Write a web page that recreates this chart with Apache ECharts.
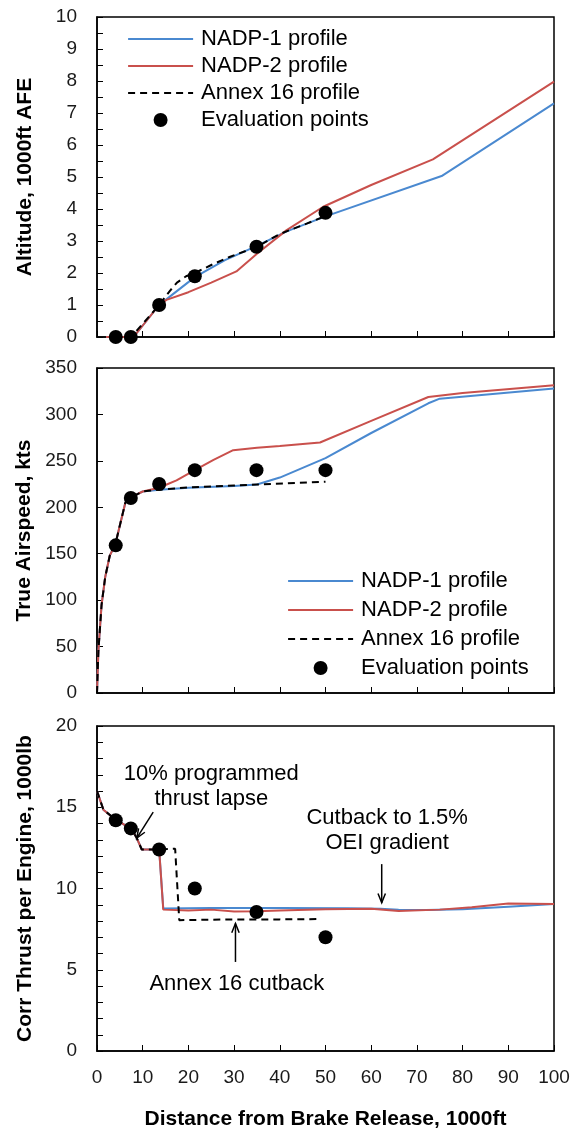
<!DOCTYPE html>
<html>
<head>
<meta charset="utf-8">
<script src="https://cdn.jsdelivr.net/npm/echarts@6/dist/echarts.min.js"></script>
<style>html,body{margin:0;padding:0;background:#fff;}#c{width:579px;height:1133px;}</style>
</head>
<body>
<div id="c"></div>
<script>
// ---------- DATA (x in 1000 ft from brake release) ----------
const evalX      = [4.1, 7.4, 13.6, 21.4, 34.9, 50];
const evalAlt    = [0, 0, 1.0, 1.9, 2.82, 3.88];
const evalSpeed  = [159, 210, 225, 240, 240, 240];
const evalThrust = [14.2, 13.7, 12.4, 10.0, 8.55, 7.0];

const altNADP1  = [[2,0],[8,0],[13.6,1.0],[16,1.27],[21.4,1.87],[28,2.4],[35,2.85],[41.5,3.3],[50,3.77],[75.4,5.03],[100,7.3]];
const altNADP2  = [[2,0],[8,0],[13.6,1.0],[15.2,1.16],[20,1.4],[25,1.7],[30.5,2.05],[35,2.6],[41.5,3.34],[49.5,4.07],[60,4.75],[73.5,5.55],[100,7.98]];
const altAnnex  = [[4,0],[7.5,0],[13.6,1.0],[16,1.45],[17.5,1.7],[19.5,1.9],[21.4,2.0],[25,2.25],[29,2.5],[35,2.82],[40,3.22],[46,3.55],[50,3.78]];

const spdNADP1  = [[0,0],[0.3,45],[1,95],[1.8,125],[2.8,148],[4,160],[6.2,205],[7.5,211],[10,217],[13.6,219],[20,221],[30,223],[35,224.5],[40,232],[50,253],[60,280],[72.5,312],[75,317],[100,328]];
const spdNADP2  = [[0,0],[0.3,45],[1,95],[1.8,125],[2.8,148],[4,160],[6.2,205],[7.5,211],[10,217],[13.6,221],[15,224],[17.4,229],[21.4,240],[25.5,251],[29.8,261.5],[35,264],[40,266],[48.8,269.8],[60,293],[72.5,318.8],[80,323],[100,331.4]];
const spdAnnex  = [[0,0],[0.3,45],[1,95],[1.8,125],[2.8,148],[4,160],[6.2,205],[7.5,211],[10,217],[13.6,219],[20,221.5],[30,223.5],[35,224.5],[50,227.5]];

const thrNADP1  = [[0,16.0],[1.4,14.85],[4,14.25],[7.6,13.65],[8.7,13.1],[9.8,12.4],[13.6,12.4],[14.5,8.77],[25,8.8],[40,8.8],[55,8.78],[62,8.75],[66,8.7],[72,8.68],[80,8.72],[90,8.88],[100,9.04]];
const thrNADP2  = [[0,16.0],[1.4,14.85],[4,14.25],[7.6,13.65],[8.7,13.1],[9.8,12.4],[13.6,12.4],[14.5,8.7],[20,8.65],[25,8.7],[30,8.58],[35,8.6],[40,8.65],[50,8.72],[60,8.75],[66,8.62],[75,8.7],[82,8.85],[90,9.08],[100,9.05]];
const thrAnnex  = [[0,16.0],[1.4,14.85],[4,14.25],[7.6,13.65],[8.7,13.1],[9.8,12.4],[13.6,12.4],[17.1,12.45],[18,8.05],[30,8.1],[40,8.1],[48.5,8.12]];

const seriesNames = ['NADP-1 profile','NADP-2 profile','Annex 16 profile','Evaluation points'];
const yNames = ['Altitude, 1000ft AFE','True Airspeed, kts','Corr Thrust per Engine, 1000lb'];
const xName = 'Distance from Brake Release, 1000ft';

const annotationTexts = [
  {text:'10% programmed\nthrust lapse', x:25.0, y:16.27},
  {text:'Cutback to 1.5%\nOEI gradient', x:63.5, y:13.55},
  {text:'Annex 16 cutback', x:30.6, y:4.15}
];
const annotationArrows = [
  {from:[12.3,14.7], to:[8.7,13.1]},
  {from:[62.3,11.5], to:[62.3,9.12]},
  {from:[30.3,5.48], to:[30.3,7.85]}
];

// ---------- STYLE ----------
const FONT = "'Liberation Sans', Arial, Helvetica, sans-serif";
const BLUE = '#4a89d0', RED = '#c9504c';
const lineColors = [BLUE, RED, '#000'];

const grids = [
  {left:97, right:25, top:17,  height:320},
  {left:97, right:25, top:368, height:325},
  {left:97, right:25, top:726, height:325}
].map(g => Object.assign(g, {show:true, borderColor:'#000', borderWidth:1.5, containLabel:false}));

function xAxis(i){
  return {
    gridIndex:i, type:'value', min:0, max:100, interval:10,
    name: i===2 ? xName : '', nameLocation:'middle', nameGap:58,
    nameTextStyle:{fontSize:21, fontWeight:'bold', color:'#000', fontFamily:FONT},
    axisLine:{show:true, lineStyle:{color:'#000', width:1.5}},
    axisTick:{show:true, inside:true, length:6, lineStyle:{color:'#000', width:1}},
    axisLabel:{show:i===2, fontSize:19, color:'#1a1a1a', margin:17, fontFamily:FONT},
    splitLine:{show:false}
  };
}
function yAxis(i, max, interval, minorSplit){
  return {
    gridIndex:i, type:'value', min:0, max:max, interval:interval,
    name:yNames[i], nameLocation:'middle', nameGap:61, nameRotate:90,
    nameTextStyle:{fontSize:21, fontWeight:'bold', color:'#000', fontFamily:FONT},
    axisLine:{show:true, lineStyle:{color:'#000', width:1.5}},
    axisTick:{show:true, inside:true, length:6, lineStyle:{color:'#000', width:1}},
    minorTick:{show:minorSplit>0, splitNumber:minorSplit||5, length:6, lineStyle:{color:'#000', width:1}},
    axisLabel:{fontSize:19, color:'#1a1a1a', margin:20, fontFamily:FONT},
    splitLine:{show:false}, minorSplitLine:{show:false}
  };
}

function lineSeries(name, data, i, color, dashed){
  return {
    name:name, type:'line', xAxisIndex:i, yAxisIndex:i, data:data,
    symbol:'none', smooth:false, silent:true, animation:false,
    lineStyle:{color:color, width:2, type: dashed ? [7,5] : 'solid'},
    itemStyle:{color:color}, z: dashed ? 3 : 2
  };
}
function scatterSeries(i, ys){
  return {
    name:seriesNames[3], type:'scatter', xAxisIndex:i, yAxisIndex:i,
    data: evalX.map((x,k)=>[x, ys[k]]), symbol:'circle', symbolSize:14,
    itemStyle:{color:'#000', opacity:1}, z:5, animation:false, clip:false
  };
}

const panels = [
  [altNADP1, altNADP2, altAnnex, evalAlt],
  [spdNADP1, spdNADP2, spdAnnex, evalSpeed],
  [thrNADP1, thrNADP2, thrAnnex, evalThrust]
];
const series = [];
panels.forEach((p,i)=>{
  series.push(lineSeries(seriesNames[0], p[0], i, BLUE, false));
  series.push(lineSeries(seriesNames[1], p[1], i, RED, false));
  series.push(lineSeries(seriesNames[2], p[2], i, '#000', true));
  series.push(scatterSeries(i, p[3]));
});

function legend(left, top, gap){
  return {
    data: seriesNames.map((n,k)=> k<3
      ? {name:n, itemStyle:{opacity:0}, lineStyle:{width:2.2, color:lineColors[k], type: k===2 ? [7,5] : 'solid'}}
      : {name:n}),
    orient:'vertical', left:left, top:top, padding:0,
    itemWidth:65, itemHeight:14, itemGap:gap, selectedMode:false,
    textStyle:{fontSize:22, color:'#000', fontFamily:FONT, padding:[0,0,0,3]}
  };
}

const option = {
  backgroundColor:'#fff',
  animation:false,
  textStyle:{fontFamily:FONT},
  grid:grids,
  xAxis:[xAxis(0), xAxis(1), xAxis(2)],
  yAxis:[yAxis(0,10,1,2), yAxis(1,350,50,0), yAxis(2,20,5,5)],
  legend:[legend(127,28,5), legend(287,570,7)],
  series:series
};

const chart = echarts.init(document.getElementById('c'), null, {renderer:'canvas'});
chart.setOption(option);

// ---------- ANNOTATIONS (placed through the bottom panel's axes) ----------
const finder = {xAxisIndex:2, yAxisIndex:2};
const graphics = [];
annotationTexts.forEach(a=>{
  const p = chart.convertToPixel(finder, [a.x, a.y]);
  graphics.push({type:'text', x:p[0], y:p[1], z:20, silent:true,
    style:{text:a.text, fontSize:22, fontFamily:FONT, fill:'#000',
      align:'center', verticalAlign:'middle', textAlign:'center', textVerticalAlign:'middle', lineHeight:25}});
});
annotationArrows.forEach(a=>{
  const p1 = chart.convertToPixel(finder, a.from);
  const p2 = chart.convertToPixel(finder, a.to);
  graphics.push({type:'line', z:20, silent:true, shape:{x1:p1[0], y1:p1[1], x2:p2[0], y2:p2[1]},
    style:{stroke:'#000', lineWidth:1.5}});
  const ang = Math.atan2(p2[1]-p1[1], p2[0]-p1[0]);
  const L = 10, w = 0.38;
  const h1 = [p2[0]-L*Math.cos(ang-w), p2[1]-L*Math.sin(ang-w)];
  const h2 = [p2[0]-L*Math.cos(ang+w), p2[1]-L*Math.sin(ang+w)];
  graphics.push({type:'polyline', z:20, silent:true, shape:{points:[h1, p2, h2]},
    style:{stroke:'#000', lineWidth:1.5, fill:null}});
});
chart.setOption({graphic:graphics});
</script>
</body>
</html>
